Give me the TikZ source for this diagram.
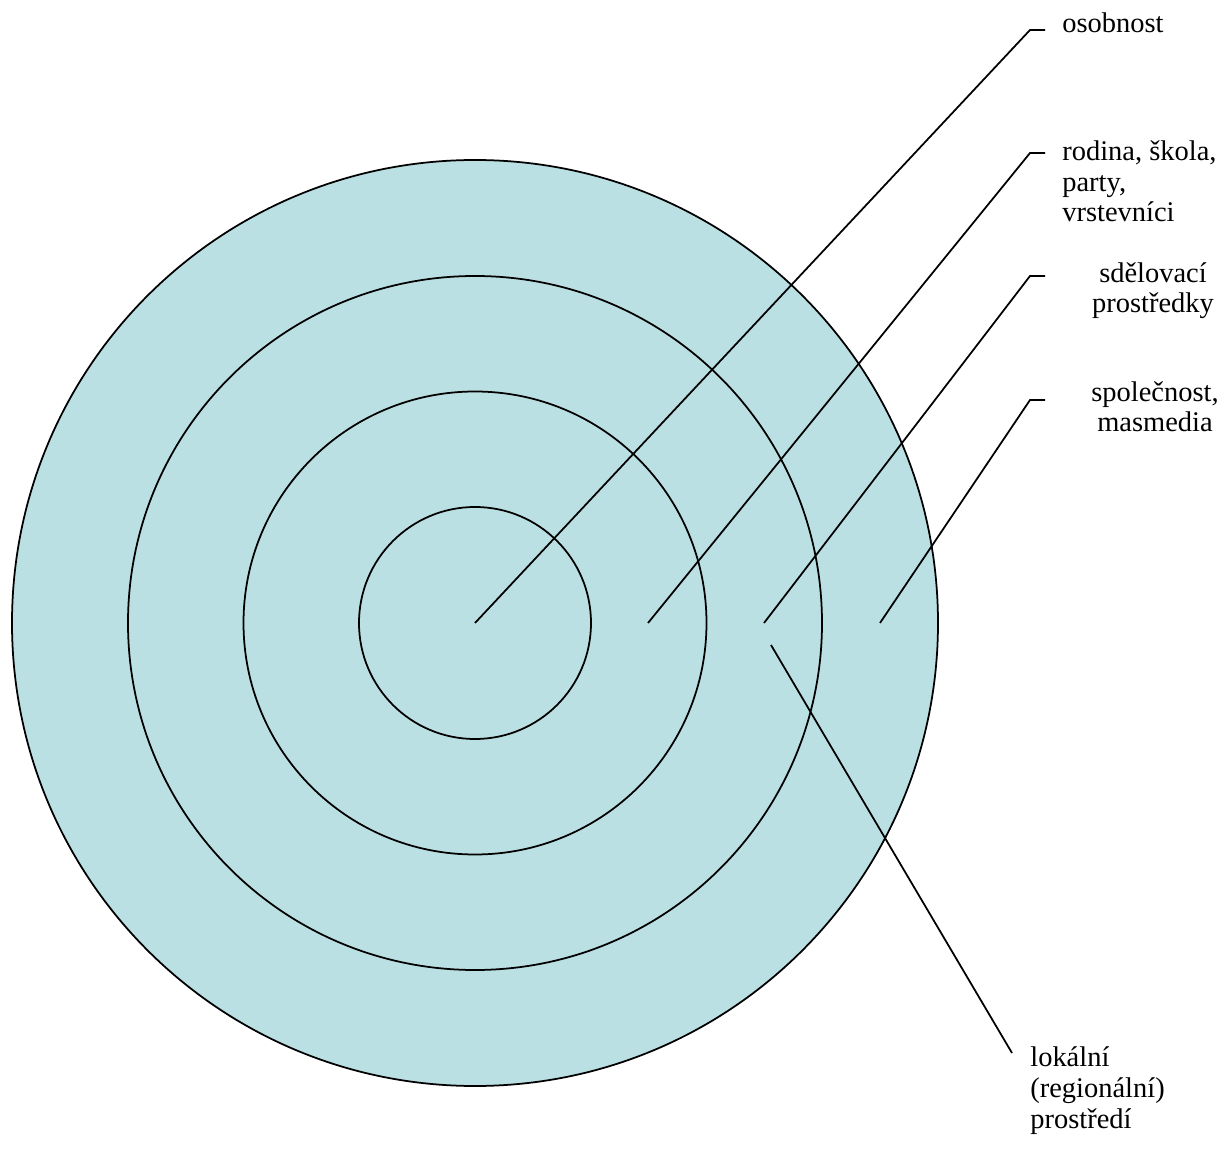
\documentclass[tikz,border=0pt]{standalone}
\usepackage{fontspec}
\setmainfont{Liberation Serif}
\newfontfamily\labelfont{Liberation Serif}
\usepackage{tikz}

\definecolor{ringfill}{RGB}{187,224,227}

\begin{document}
\begin{tikzpicture}[
		ring_style/.style={draw=black,line width=1pt},
		edge_style/.style={draw=black,line width=1pt},
		label_style/.style={inner sep=0pt,font=\labelfont\fontsize{16.2}{17.6}\selectfont}]
		
		\useasboundingbox (-9.5,-10.52) rectangle (15.04,12.46);
		
		\fill[ringfill] (0,0) circle (9.26);
		\draw[ring_style] (0,0) circle (9.26);
		\draw[ring_style] (0,0) circle (6.94);
		\draw[ring_style] (0,0) circle (4.63);
		\draw[ring_style] (0,0) circle (2.32);
		
		\coordinate (c0) at (0,0);
		\coordinate (c1) at (3.46,0);
		\coordinate (c2) at (5.78,0);
		\coordinate (c3) at (8.10,0);
		\coordinate (c4) at (5.92,-0.44);
		\coordinate (b0) at (11.10,11.86);
		\coordinate (b1) at (11.10,9.40);
		\coordinate (b2) at (11.10,6.94);
		\coordinate (b3) at (11.10,4.46);
		\coordinate (b4) at (10.74,-8.60);
		\coordinate (e0) at (11.40,11.86);
		\coordinate (e1) at (11.40,9.40);
		\coordinate (e2) at (11.40,6.94);
		\coordinate (e3) at (11.40,4.46);
		
		% base anchor sits on the last line
		\node[label_style,anchor=base west] (osobnost) at (11.74,11.80) {osobnost};
		\node[label_style,anchor=base west,align=left] (rodina) at (11.74,8.02) {rodina, škola,\\party,\\vrstevníci};
		\node[label_style,anchor=base,align=center] (media) at (13.56,6.20) {sdělovací\\prostředky};
		\node[label_style,anchor=base,align=center] (spolecnost) at (13.60,3.82) {společnost,\\masmedia};
		\node[label_style,anchor=base west,align=left] (lokalni) at (11.10,-10.10) {lokální\\(regionální)\\prostředí};
		
		\draw[edge_style] (c0) -- (b0) -- (e0);
		\draw[edge_style] (c1) -- (b1) -- (e1);
		\draw[edge_style] (c2) -- (b2) -- (e2);
		\draw[edge_style] (c3) -- (b3) -- (e3);
		\draw[edge_style] (c4) -- (b4);
		\end{tikzpicture}
\end{document}
